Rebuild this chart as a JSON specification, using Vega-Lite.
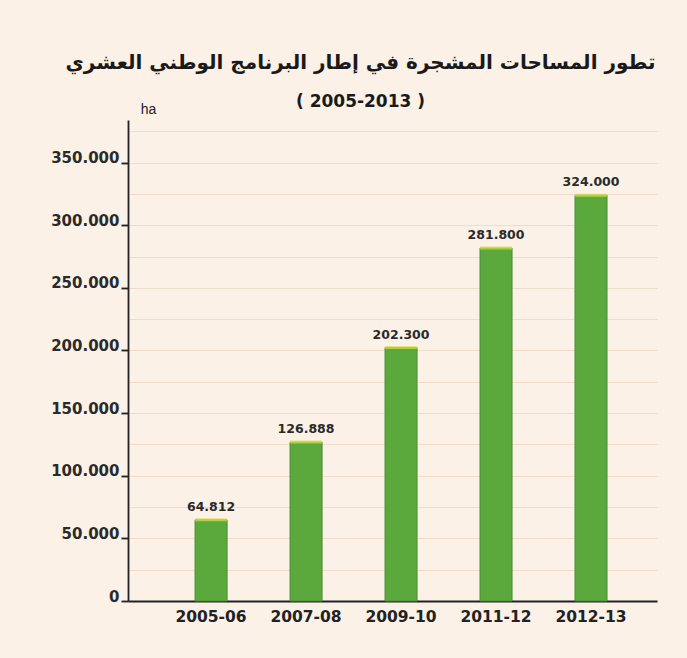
{
  "$schema": "https://vega.github.io/schema/vega-lite/v6.json",
  "width": 529,
  "height": 481,
  "autosize": "none",
  "padding": {"left": 128, "top": 120, "right": 30, "bottom": 57},
  "background": "#fbf1e7",
  "title": {
    "text": "تطور المساحات المشجرة في إطار البرنامج الوطني العشري",
    "subtitle": "( 2005-2013 )",
    "font": "DejaVu Sans",
    "fontSize": 20,
    "fontWeight": "bold",
    "color": "#1a1a1a",
    "subtitleFont": "DejaVu Sans",
    "subtitleFontSize": 17,
    "subtitleFontWeight": "bold",
    "subtitleColor": "#1a1a1a",
    "subtitlePadding": 21,
    "anchor": "middle",
    "dx": -32,
    "offset": -8
  },
  "data": {
    "values": [
      {"period": "2005-06", "ha": 64812, "label": "64.812"},
      {"period": "2007-08", "ha": 126888, "label": "126.888"},
      {"period": "2009-10", "ha": 202300, "label": "202.300"},
      {"period": "2011-12", "ha": 281800, "label": "281.800"},
      {"period": "2012-13", "ha": 324000, "label": "324.000"}
    ]
  },
  "encoding": {
    "x": {
      "field": "period",
      "type": "nominal",
      "sort": null,
      "scale": {"paddingInner": 0.663, "paddingOuter": 0.616, "align": 0.573},
      "axis": {
        "title": null,
        "labelAngle": 0,
        "ticks": false,
        "domainColor": "#222",
        "domainWidth": 1.8,
        "labelFont": "DejaVu Sans",
        "labelFontSize": 15.5,
        "labelFontWeight": "bold",
        "labelColor": "#222",
        "labelPadding": 8
      }
    }
  },
  "layer": [
    {
      "mark": {"type": "bar", "opacity": 0},
      "encoding": {
        "y": {
          "field": "ha",
          "type": "quantitative",
          "scale": {"domain": [0, 384000], "nice": false},
          "axis": {
            "orient": "left",
            "values": [25000, 75000, 125000, 175000, 225000, 275000, 325000, 375000, 50000, 100000, 150000, 200000, 250000, 300000, 350000],
            "grid": true,
            "gridColor": "#f0dccb",
            "gridWidth": 1,
            "labels": false,
            "ticks": false,
            "domain": false,
            "title": null
          }
        }
      }
    },
    {
      "mark": {"type": "bar", "color": "#5ba83c", "stroke": "#4b8e34", "strokeWidth": 1},
      "encoding": {
        "y": {
          "field": "ha",
          "type": "quantitative",
          "scale": {"domain": [0, 384000], "nice": false},
          "axis": {
            "orient": "left",
            "values": [0, 50000, 100000, 150000, 200000, 250000, 300000, 350000],
            "labelExpr": "replace(format(datum.value, ','), ',', '.')",
            "title": "ha",
            "titleAngle": 0,
            "titleX": 20,
            "titleY": -4,
            "titleAlign": "center",
            "titleFont": "Liberation Sans",
            "titleFontSize": 14,
            "titleFontWeight": "normal",
            "titleColor": "#222",
            "domainColor": "#222",
            "domainWidth": 1.8,
            "tickColor": "#222",
            "tickWidth": 1.8,
            "tickSize": 7,
            "labelFont": "DejaVu Sans",
            "labelFontSize": 15,
            "labelFontWeight": "bold",
            "labelColor": "#2a2a2a",
            "labelBaseline": "alphabetic",
            "labelPadding": 2,
            "grid": false
          }
        }
      }
    },
    {
      "mark": {"type": "tick", "color": "#d9df4a", "thickness": 3, "size": 32},
      "encoding": {"y": {"field": "ha", "type": "quantitative", "axis": null}}
    },
    {
      "mark": {"type": "text", "dy": -13, "font": "DejaVu Sans", "fontSize": 12.5, "fontWeight": "bold", "color": "#2a2a2a"},
      "encoding": {"y": {"field": "ha", "type": "quantitative", "axis": null}, "text": {"field": "label"}}
    }
  ],
  "resolve": {"axis": {"y": "independent"}},
  "config": {
    "view": {"stroke": null}
  }
}
